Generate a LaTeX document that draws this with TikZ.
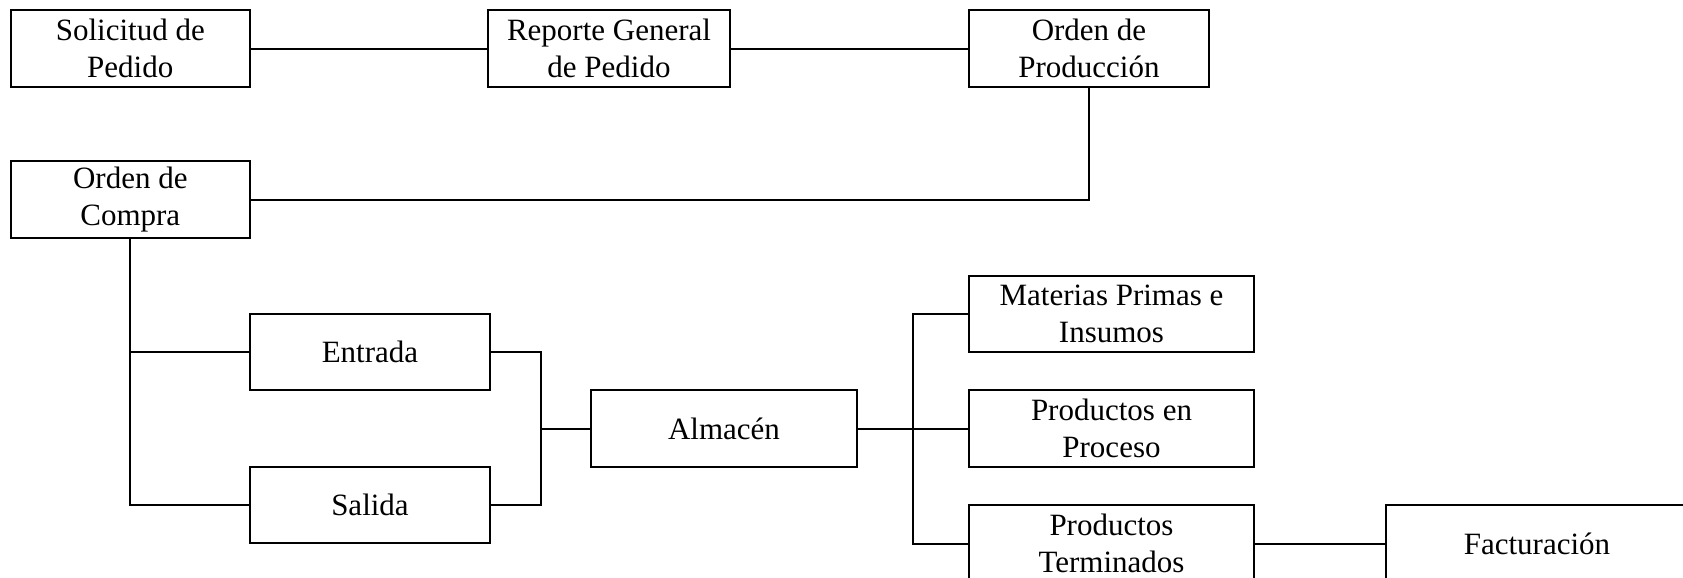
\documentclass[tikz,border=0pt]{standalone}
\usepackage{fontspec}
\setmainfont{Liberation Serif}
\begin{document}
\begin{tikzpicture}[x=0.5pt,y=-0.5pt,
  box/.style={draw,line width=1pt,rectangle,align=center,inner sep=0pt,
    font=\fontsize{15.5}{18.5}\selectfont},
  link/.style={line width=1pt}]
  \useasboundingbox (0,0) rectangle (1683,578);
  \clip (0,0) rectangle (1683,578);
  % top row
  \node[box,minimum width=119.6pt,minimum height=38.5pt] (sol) at (130.3,48.5) {Solicitud de\\Pedido};
  \node[box,minimum width=121pt,minimum height=38.5pt] (rep) at (609,48.5) {Reporte General\\de Pedido};
  \node[box,minimum width=120pt,minimum height=38.5pt] (prod) at (1089,48.5) {Orden de\\Producción};
  % purchase order
  \node[box,minimum width=119.6pt,minimum height=38.5pt] (comp) at (130.3,199.5) {Orden de\\Compra};
  % stock movements
  \node[box,minimum width=120pt,minimum height=38pt] (ent) at (370,352) {Entrada};
  \node[box,minimum width=120pt,minimum height=38pt] (sal) at (370,505) {Salida};
  \node[box,minimum width=133pt,minimum height=38.5pt] (alm) at (724,428.5) {Almacén};
  % warehouse contents
  \node[box,minimum width=142.5pt,minimum height=38pt] (mat) at (1111.5,314) {Materias Primas e\\Insumos};
  \node[box,minimum width=142.5pt,minimum height=38.5pt] (proc) at (1111.5,428.5) {Productos en\\Proceso};
  \node[box,minimum width=142.5pt,minimum height=38.5pt] (term) at (1111.5,543.5) {Productos\\Terminados};
  \node[box,minimum width=151pt,minimum height=38.5pt] (fac) at (1537,543.5) {Facturación};
  % junction points
  \coordinate (jL) at (540.5,428.5);
  \coordinate (jR) at (912.5,428.5);
  % connectors
  \draw[link] (sol.east) -- (rep.west);
  \draw[link] (rep.east) -- (prod.west);
  \draw[link] (prod.south) |- (comp.east);
  \draw[link] (comp.south) |- (sal.west);
  \draw[link] (comp.south |- ent.west) -- (ent.west);
  \draw[link] (ent.east) -| (jL);
  \draw[link] (sal.east) -| (jL);
  \draw[link] (jL) -- (alm.west);
  \draw[link] (alm.east) -- (proc.west);
  \draw[link] (mat.west) -| (jR);
  \draw[link] (term.west) -| (jR);
  \draw[link] (term.east) -- (fac.west);
\end{tikzpicture}
\end{document}
